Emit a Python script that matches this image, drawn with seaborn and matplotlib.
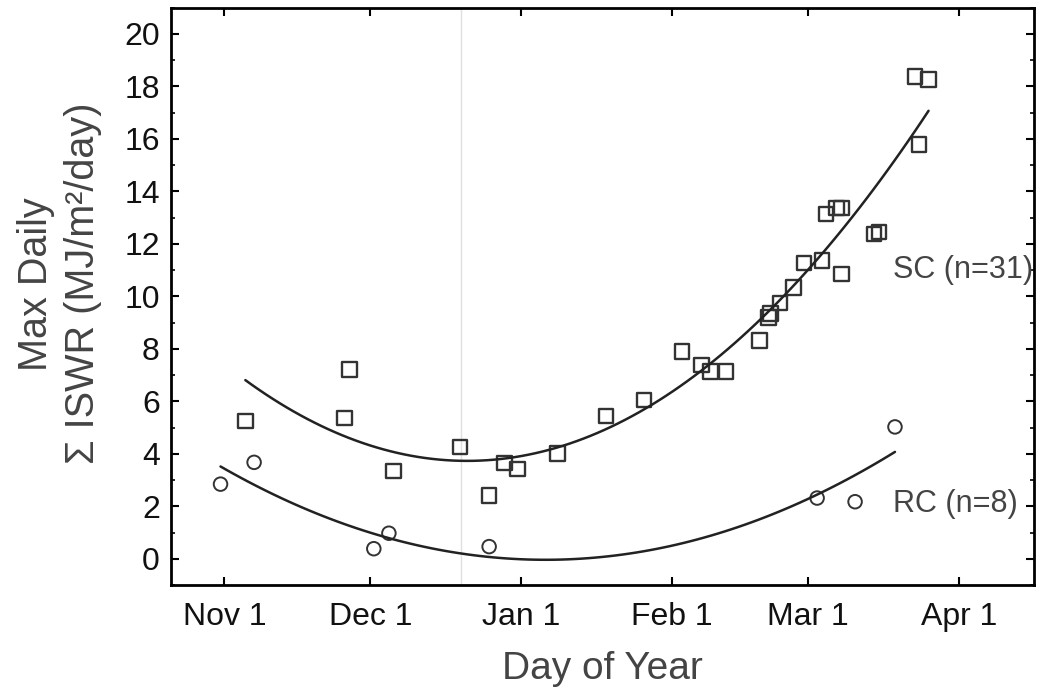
import matplotlib

matplotlib.use("Agg")
import matplotlib.pyplot as plt
import seaborn as sns
import pandas as pd
from matplotlib.ticker import MultipleLocator

# days counted from Nov 1
sc_day = [4.3, 25.7, 24.7, 34.8, 48.4, 54.4, 57.5, 60.2, 68.4, 78.4, 86.2,
          94.0, 98.0, 99.9, 103.1, 110.0, 111.8, 112.2, 114.2, 116.9, 119.1,
          122.8, 126.8, 123.6, 125.8, 126.8, 133.5, 134.5, 141.9, 144.7, 142.7]
sc_val = [5.26, 7.22, 5.37, 3.35, 4.27, 2.41, 3.66, 3.43, 4.02, 5.45, 6.05,
          7.91, 7.39, 7.15, 7.15, 8.32, 9.19, 9.35, 9.75, 10.35, 11.28,
          11.37, 10.86, 13.14, 13.37, 13.37, 12.38, 12.45, 18.37, 18.26, 15.78]

rc_day = [-0.8, 6.1, 30.7, 33.8, 54.4, 121.8, 129.6, 137.8]
rc_val = [2.85, 3.68, 0.39, 0.98, 0.47, 2.32, 2.18, 5.03]

month_days = [0, 30, 61, 92, 120, 151]
month_labels = ["Nov 1", "Dec 1", "Jan 1", "Feb 1", "Mar 1", "Apr 1"]
solstice_day = 48.7

sc = pd.DataFrame({"day": sc_day, "val": sc_val})
rc = pd.DataFrame({"day": rc_day, "val": rc_val})

sns.set_theme(style="ticks")
plt.rcParams["font.family"] = ["Liberation Sans", "DejaVu Sans"]

fig = plt.figure(figsize=(10.42, 7), dpi=100)
ax = fig.add_axes([0.164, 0.164, 0.828, 0.825])

grey = "#444444"
edge = "#333333"

ax.axvline(solstice_day, color="#e0e0e0", lw=1, zorder=0)

sns.regplot(data=sc, x="day", y="val", order=2, ci=None, scatter=False,
            truncate=True, line_kws={"color": "#222222", "lw": 1.8}, ax=ax)
sns.regplot(data=rc, x="day", y="val", order=2, ci=None, scatter=False,
            truncate=True, line_kws={"color": "#222222", "lw": 1.8}, ax=ax)

sns.scatterplot(data=sc, x="day", y="val", marker="s", s=110,
                facecolor="none", edgecolor=edge, linewidth=1.7, ax=ax)
sns.scatterplot(data=rc, x="day", y="val", marker="o", s=95,
                facecolor="none", edgecolor=edge, linewidth=1.4, ax=ax)

ax.text(137.4, 11.0, "SC (n=31)", fontsize=22, color=grey, va="center", ha="left")
ax.text(137.4, 2.1, "RC (n=8)", fontsize=22, color=grey, va="center", ha="left")

ax.set_xlim(-11, 166.3)
ax.set_ylim(-1, 21)
ax.set_xticks(month_days)
ax.set_xticklabels(month_labels)
ax.yaxis.set_major_locator(MultipleLocator(2))
ax.yaxis.set_minor_locator(MultipleLocator(1))

ax.tick_params(axis="both", which="both", direction="in", top=True, right=True,
               color="black")
ax.tick_params(axis="both", which="major", length=6, width=1.5,
               labelsize=23, labelcolor="#111111")
ax.tick_params(axis="x", which="major", pad=12)
ax.tick_params(axis="y", which="major", pad=8)
ax.tick_params(axis="y", which="minor", length=3, width=1.2)

for sp in ax.spines.values():
    sp.set_linewidth(2)
    sp.set_color("black")

ax.set_xlabel("Day of Year", fontsize=28, color=grey, labelpad=14)
ax.set_ylabel("Max Daily\n\u03a3 ISWR (MJ/m\u00b2/day)", fontsize=28.5,
              color=grey, labelpad=16, linespacing=1.3)
ax.yaxis.label.set_y(0.522)

fig.savefig("out.png", dpi=100)
